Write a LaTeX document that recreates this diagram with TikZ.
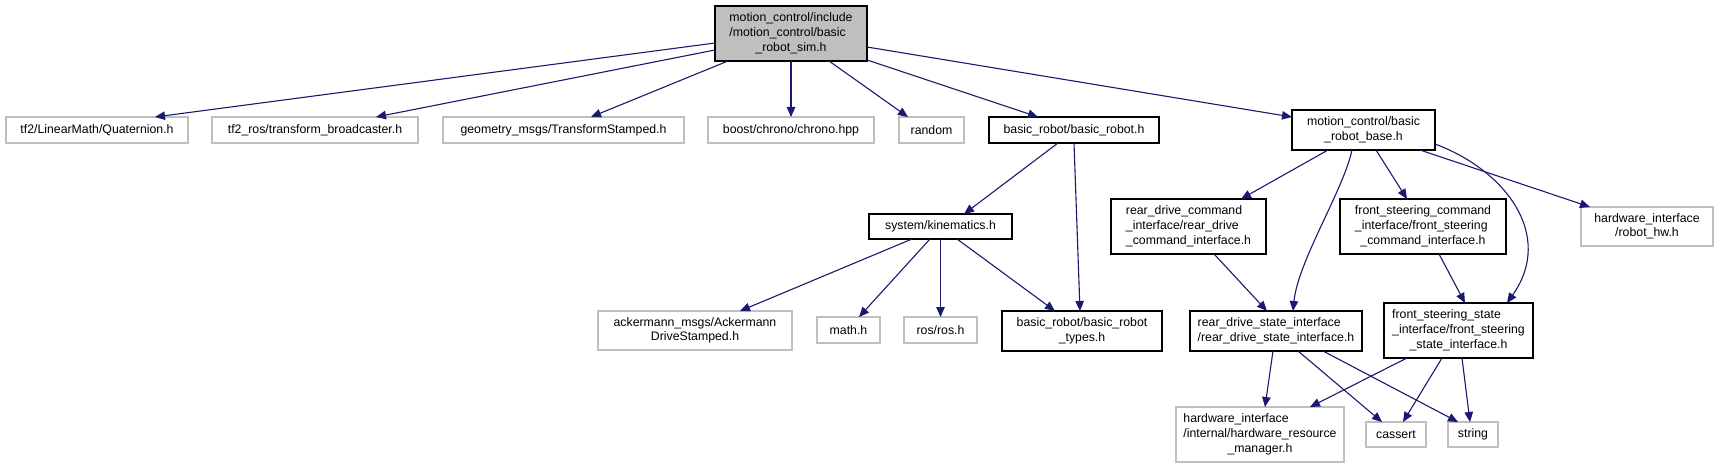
\documentclass[tikz,border=0pt]{standalone}
\usepackage{fontspec}
\setmainfont{Liberation Sans}
\usetikzlibrary{arrows.meta,calc}
\definecolor{edgeblue}{HTML}{191970}
\definecolor{lightgrey}{HTML}{BFBFBF}
\newcommand{\lastc}[1]{\multicolumn{1}{@{}c@{}}{#1}}
\begin{document}
\begin{tikzpicture}[x=1pt,y=-1pt,
  box/.style={draw=black,line width=1.3pt,inner sep=0pt,align=center,
    font=\fontsize{12.3}{14.7}\selectfont,text=black},
  gbox/.style={box,draw=lightgrey},
  mainbox/.style={box,fill=lightgrey},
  edge/.style={draw=edgeblue,line width=1.1pt,-{Triangle[length=10pt,width=8.5pt]}}
]
\useasboundingbox (0,0) rectangle (1719,468);
% nodes
\node[mainbox,minimum width=152pt,minimum height=55pt] (main) at (791,33.5)
  {\begin{tabular}{@{}l@{}}motion\_control/include\\/motion\_control/basic\\\lastc{\_robot\_sim.h}\end{tabular}};
\node[gbox,minimum width=182pt,minimum height=26pt] (quat) at (97,130) {tf2/LinearMath/Quaternion.h};
\node[gbox,minimum width=206pt,minimum height=26pt] (tf2) at (315,130) {tf2\_ros/transform\_broadcaster.h};
\node[gbox,minimum width=241pt,minimum height=26pt] (geom) at (563.5,130) {geometry\_msgs/TransformStamped.h};
\node[gbox,minimum width=166pt,minimum height=26pt] (boost) at (791,130) {boost/chrono/chrono.hpp};
\node[gbox,minimum width=65pt,minimum height=26pt] (random) at (931.5,130) {random};
\node[box,minimum width=170pt,minimum height=26pt] (brh) at (1074,130) {basic\_robot/basic\_robot.h};
\node[box,minimum width=143pt,minimum height=40pt] (base) at (1363.5,130)
  {\begin{tabular}{@{}l@{}}motion\_control/basic\\\lastc{\_robot\_base.h}\end{tabular}};
\node[box,minimum width=143pt,minimum height=25pt] (kin) at (940.5,226.5) {system/kinematics.h};
\node[box,minimum width=155pt,minimum height=55pt] (rdc) at (1188.5,226.5)
  {\begin{tabular}{@{}l@{}}rear\_drive\_command\\\_interface/rear\_drive\\\lastc{\_command\_interface.h}\end{tabular}};
\node[box,minimum width=166pt,minimum height=55pt] (fsc) at (1423,226.5)
  {\begin{tabular}{@{}l@{}}front\_steering\_command\\\_interface/front\_steering\\\lastc{\_command\_interface.h}\end{tabular}};
\node[gbox,minimum width=132pt,minimum height=39pt] (rhw) at (1647,226.5)
  {\begin{tabular}{@{}l@{}}hardware\_interface\\\lastc{/robot\_hw.h}\end{tabular}};
\node[gbox,minimum width=194pt,minimum height=39pt] (ack) at (695,330.5)
  {\begin{tabular}{@{}l@{}}ackermann\_msgs/Ackermann\\\lastc{DriveStamped.h}\end{tabular}};
\node[gbox,minimum width=63pt,minimum height=26pt] (math) at (848.5,330) {math.h};
\node[gbox,minimum width=73pt,minimum height=26pt] (ros) at (940.5,330) {ros/ros.h};
\node[box,minimum width=160pt,minimum height=40pt] (types) at (1082,331)
  {\begin{tabular}{@{}l@{}}basic\_robot/basic\_robot\\\lastc{\_types.h}\end{tabular}};
\node[box,minimum width=172pt,minimum height=40pt] (rds) at (1276,331)
  {\begin{tabular}{@{}l@{}}rear\_drive\_state\_interface\\\lastc{/rear\_drive\_state\_interface.h}\end{tabular}};
\node[box,minimum width=149pt,minimum height=55pt] (fss) at (1458.5,330.5)
  {\begin{tabular}{@{}l@{}}front\_steering\_state\\\_interface/front\_steering\\\lastc{\_state\_interface.h}\end{tabular}};
\node[gbox,minimum width=168pt,minimum height=55pt] (hrm) at (1260,434.5)
  {\begin{tabular}{@{}l@{}}hardware\_interface\\/internal/hardware\_resource\\\lastc{\_manager.h}\end{tabular}};
\node[gbox,minimum width=60pt,minimum height=25pt] (cassert) at (1396,434.5) {cassert};
\node[gbox,minimum width=50pt,minimum height=25pt] (string) at (1473,434.5) {string};
% edges
\draw[edge] ($(main)+(-76,9.5)$) -- ($(quat)+(58,-13)$);
\draw[edge] ($(main)+(-76,16.5)$) -- ($(tf2)+(61,-13)$);
\draw[edge] ($(main)+(-63,27.5)$) -- ($(geom)+(27.5,-13)$);
\draw[edge] ($(main)+(0,27.5)$) -- ($(boost)+(0,-13)$);
\draw[edge] ($(main)+(38,27.5)$) -- ($(random)+(-23.5,-13)$);
\draw[edge] ($(main)+(76,26.5)$) -- ($(brh)+(-36,-13)$);
\draw[edge] ($(main)+(76,13.5)$) -- ($(base)+(-71.5,-13)$);
\draw[edge] ($(brh)+(-16,13)$) -- ($(kin)+(23.5,-12.5)$);
\draw[edge] ($(brh)+(0,13)$) -- ($(types)+(-2,-20)$);
\draw[edge] ($(kin)+(-28.5,12.5)$) -- ($(ack)+(45,-19.5)$);
\draw[edge] ($(kin)+(-10.5,12.5)$) -- ($(math)+(10.5,-13)$);
\draw[edge] ($(kin)+(0,12.5)$) -- ($(ros)+(0,-13)$);
\draw[edge] ($(kin)+(16.5,12.5)$) -- ($(types)+(-27,-20)$);
\draw[edge] ($(base)+(-35.5,20)$) -- ($(rdc)+(52.5,-27.5)$);
\draw[edge] ($(base)+(-11.5,20)$) .. controls ($(base)+(-20,60)$) and ($(rds)+(22,-70)$) .. ($(rds)+(17,-20)$);
\draw[edge] ($(base)+(12.5,20)$) -- ($(fsc)+(-16,-27.5)$);
\draw[edge] ($(base)+(71.5,14)$) .. controls ($(base)+(141.5,40)$) and ($(fss)+(96.5,-95.5)$) .. ($(fss)+(48.5,-27.5)$);
\draw[edge] ($(base)+(56.5,20)$) -- ($(rhw)+(-57,-19.5)$);
\draw[edge] ($(rdc)+(25.5,27.5)$) -- ($(rds)+(-9,-20)$);
\draw[edge] ($(fsc)+(16,27.5)$) -- ($(fss)+(6.5,-27.5)$);
\draw[edge] ($(rds)+(-3,20)$) -- ($(hrm)+(5,-27.5)$);
\draw[edge] ($(rds)+(22,20)$) -- ($(cassert)+(-14,-12.5)$);
\draw[edge] ($(rds)+(47,20)$) -- ($(string)+(-15,-12.5)$);
\draw[edge] ($(fss)+(-51.5,27.5)$) -- ($(hrm)+(50,-27.5)$);
\draw[edge] ($(fss)+(-16.5,27.5)$) -- ($(cassert)+(7,-12.5)$);
\draw[edge] ($(fss)+(3.5,27.5)$) -- ($(string)+(-3,-12.5)$);
\end{tikzpicture}
\end{document}
